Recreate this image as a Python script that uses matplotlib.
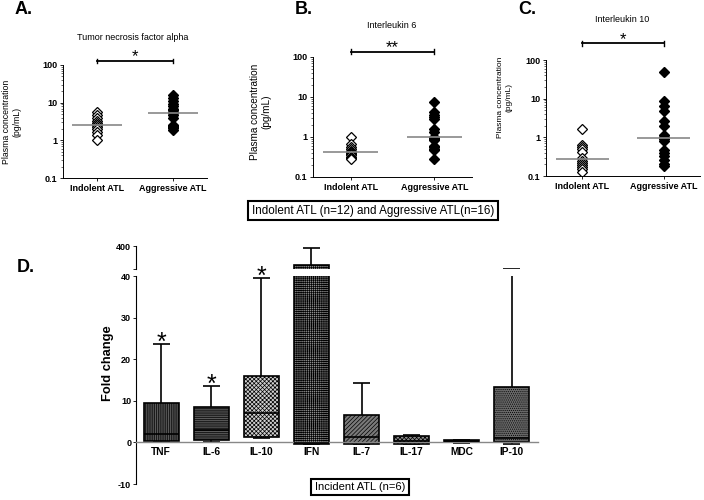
import numpy as np
import matplotlib
matplotlib.use('Agg')
import matplotlib.pyplot as plt

plt.rcParams['font.family'] = ['Liberation Sans', 'DejaVu Sans']
plt.rcParams['hatch.linewidth'] = 0.5

# ---- data: panels A-C (pg/mL) ----
groups = ['Indolent ATL', 'Aggressive ATL']
tnf_indolent = [5.5, 4.6, 3.9, 3.2, 2.8, 2.6, 2.5, 2.2, 2.0, 1.7, 1.4, 1.0]
tnf_aggressive = [16, 13, 11, 9.5, 8, 7, 6.3, 5.6, 5.2, 4.6, 4.0, 2.6, 2.4, 2.2, 2.1, 1.9]
il6_indolent = [1.0, 0.66, 0.55, 0.50, 0.45, 0.42, 0.40, 0.37, 0.35, 0.32, 0.30, 0.28]
il6_aggressive = [7.6, 4.1, 3.6, 3.2, 2.9, 1.6, 1.3, 1.0, 0.97, 0.9, 0.85, 0.6, 0.55, 0.5, 0.48, 0.29]
il10_indolent = [1.6, 0.65, 0.57, 0.5, 0.43, 0.3, 0.25, 0.22, 0.19, 0.17, 0.15, 0.13]
il10_aggressive = [48, 8.8, 6.5, 4.8, 2.7, 2.0, 1.15, 1.0, 0.9, 0.82, 0.47, 0.4, 0.32, 0.26, 0.21, 0.18]

# ---- data: panel D (fold change) ----
cytokines = ['TNF', 'IL-6', 'IL-10', 'IFN', 'IL-7', 'IL-17', 'MDC', 'IP-10']
q1 = [0.4, 0.6, 1.3, -0.5, -0.4, -0.4, 0.0, 0.0]
median = [2.0, 3.0, 7.0, -0.1, 1.2, 0.3, 0.3, 1.0]
q3 = [9.4, 8.4, 15.9, 100, 6.6, 1.5, 0.6, 13.3]
whisk_low = [0.1, 0.0, 1.0, -0.5, -0.5, -0.4, -0.1, -0.3]
whisk_high = [23.7, 13.5, 39.4, 370, 14.3, 1.8, 0.6, 42]
starred = ['TNF', 'IL-6', 'IL-10']

fig = plt.figure(figsize=(7.04, 5), dpi=100)


def px_axes(x0, y0, x1, y1):
    # pixel box (top-left origin) -> figure axes
    return fig.add_axes([x0 / 704, 1 - y1 / 500, (x1 - x0) / 704, (y1 - y0) / 500])


def scatter_panel(box, indolent, aggressive, title, title_xy, ylab_xy, ylab_size, sig, stars):
    ax = px_axes(*box)
    for i, vals in enumerate([indolent, aggressive]):
        x = np.full(len(vals), i + 1)
        if i == 0:
            ax.plot(x, vals, 'D', ms=5, mfc='white', mec='black', mew=0.9, ls='none')
        else:
            ax.plot(x, vals, 'D', ms=5, mfc='black', mec='black', ls='none')
        ax.hlines(np.median(vals), i + 1 - 0.33, i + 1 + 0.33, color='#888888', lw=1.2)
    ax.set_yscale('log')
    ax.set_ylim(0.1, 100)
    ax.set_xlim(0.55, 2.45)
    ax.set_yticks([0.1, 1, 10, 100])
    ax.set_yticklabels(['0.1', '1', '10', '100'], fontsize=6.5, fontweight='bold')
    ax.set_xticks([1, 2])
    ax.set_xticklabels(groups, fontsize=6.5, fontweight='bold')
    ax.tick_params(axis='both', length=2.5, width=0.6, pad=1.5)
    ax.tick_params(axis='y', which='minor', length=1.5, width=0.4)
    for s in ['top', 'right']:
        ax.spines[s].set_visible(False)
    for s in ['left', 'bottom']:
        ax.spines[s].set_linewidth(0.7)
    tr = ax.get_xaxis_transform()
    yb, dy, ys = sig
    ax.plot([1, 2], [yb, yb], color='black', lw=1.3, transform=tr, clip_on=False)
    for xx in [1, 2]:
        ax.plot([xx, xx], [yb - dy, yb + dy], color='black', lw=1.0, transform=tr, clip_on=False)
    ax.text(1.5, ys, stars, ha='center', va='center', fontsize=12, transform=tr)
    fig.text(title_xy[0] / 704, 1 - title_xy[1] / 500, title, ha='center', va='center', fontsize=6.5)
    fig.text(ylab_xy[0] / 704, 1 - ylab_xy[1] / 500, 'Plasma concentration\n(pg/mL)',
             ha='center', va='center', rotation=90, fontsize=ylab_size, linespacing=1.2)
    return ax


scatter_panel((63, 65, 207, 178), tnf_indolent, tnf_aggressive, 'Tumor necrosis factor alpha',
              (133, 38), (12, 122), 6.3, (1.035, 0.02, 1.07), '*')
scatter_panel((313, 57, 472, 177), il6_indolent, il6_aggressive, 'Interleukin 6',
              (392, 26), (261, 112), 7.2, (1.044, 0.02, 1.08), '**')
scatter_panel((546, 60, 700, 176), il10_indolent, il10_aggressive, 'Interleukin 10',
              (622, 19), (505, 97), 6.0, (1.144, 0.02, 1.175), '*')

fig.text(15 / 704, 1 - 10 / 500, 'A.', fontsize=13, fontweight='bold', va='center')
fig.text(295 / 704, 1 - 10 / 500, 'B.', fontsize=13, fontweight='bold', va='center')
fig.text(518 / 704, 1 - 10 / 500, 'C.', fontsize=13, fontweight='bold', va='center')
fig.text(373 / 704, 1 - 211 / 500, 'Indolent ATL (n=12) and Aggressive ATL(n=16)',
         ha='center', va='center', fontsize=8.4,
         bbox=dict(boxstyle='square,pad=0.3', fc='white', ec='black', lw=1.5))

# ---- panel D: broken y axis ----
ax_lo = px_axes(136, 276, 538, 484)
ax_hi = px_axes(136, 246, 538, 269)
ax_lo.set_ylim(-10, 40)
ax_hi.set_ylim(40, 400)
pos = np.arange(1, len(cytokines) + 1)
hatches = ['|||||||||', '---------', 'xxxxxxxx', '++++++++', '////////', 'xxxxxxxx', '', '........']
faces = ['#5a5a5a', '#5a5a5a', '#d0d0d0', '#8c8c8c', '#7a7a7a', '#8a8a8a', '#000000', '#6a6a6a']

for ax in [ax_lo, ax_hi]:
    ax.patch.set_visible(False)
    lo, hi = ax.get_ylim()
    for i in range(len(cytokines)):
        x = pos[i]
        ax.vlines(x, whisk_low[i], whisk_high[i], color='black', lw=1.2, zorder=1)
        # caps only where they fall inside this segment of the broken axis
        for cap in [whisk_low[i], whisk_high[i]]:
            if lo <= cap <= hi:
                ax.hlines(cap, x - 0.17, x + 0.17, color='black', lw=1.2, zorder=1)
        ax.bar(x, q3[i] - q1[i], bottom=q1[i], width=0.7, color=faces[i], hatch=hatches[i],
               edgecolor='black', lw=1.2, zorder=2)
        if lo <= median[i] <= hi:
            ax.hlines(median[i], x - 0.35, x + 0.35, color='black', lw=1.2, zorder=3)
    ax.set_xlim(0.5, 8.52)
    for s in ['top', 'right']:
        ax.spines[s].set_visible(False)
    ax.spines['left'].set_linewidth(0.8)

ax_lo.set_yticks([-10, 0, 10, 20, 30, 40])
ax_lo.set_yticklabels(['-10', '0', '10', '20', '30', '40'], fontsize=6.5, fontweight='bold')
ax_lo.spines['bottom'].set_position(('data', 0))
ax_lo.spines['bottom'].set_color('#888888')
ax_lo.spines['bottom'].set_linewidth(1.0)
ax_lo.set_xticks(pos)
ax_lo.set_xticklabels(cytokines, fontsize=7.4, fontweight='bold')
ax_lo.tick_params(axis='x', length=0, pad=3)
ax_lo.tick_params(axis='y', length=2.5, width=0.6, pad=1)

ax_hi.set_yticks([40, 400])
ax_hi.set_yticklabels(['', '400'], fontsize=6.5, fontweight='bold')
ax_hi.spines['bottom'].set_visible(False)
ax_hi.set_xticks([])
ax_hi.tick_params(axis='y', length=2.5, width=0.6, pad=1)

for name in starred:
    i = cytokines.index(name)
    ax_lo.text(pos[i], whisk_high[i] + 0.3, '*', ha='center', va='center',
               fontsize=18, clip_on=False)

fig.text(108 / 704, 1 - 363 / 500, 'Fold change', rotation=90, ha='center', va='center',
         fontsize=9.3, fontweight='bold')
fig.text(17 / 704, 1 - 267 / 500, 'D.', fontsize=13, fontweight='bold', va='center')
fig.text(360 / 704, 1 - 487 / 500, 'Incident ATL (n=6)', ha='center', va='center', fontsize=8,
         bbox=dict(boxstyle='square,pad=0.3', fc='white', ec='black', lw=1.5))

fig.savefig('out.png', dpi=100)
